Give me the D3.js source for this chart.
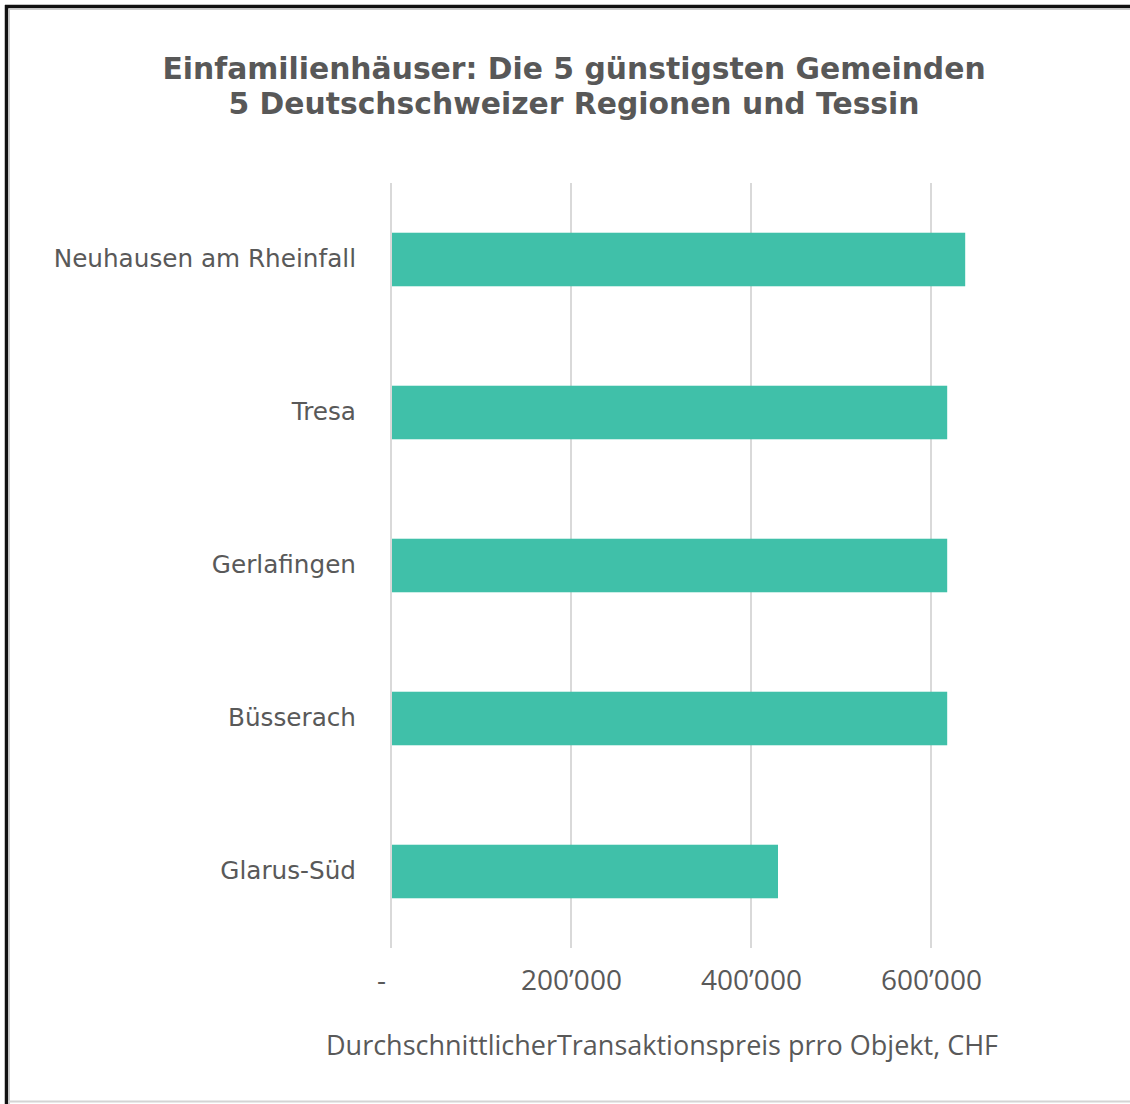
<!DOCTYPE html>
<html>
<head>
<meta charset="utf-8">
<script src="https://cdn.jsdelivr.net/npm/d3@7"></script>
<style>
  body { margin: 0; background: #fff; }
  svg { display: block; }
</style>
</head>
<body>
<div id="chart"></div>
<script>
// data
var gemeinden = ["Neuhausen am Rheinfall", "Tresa", "Gerlafingen", "Büsserach", "Glarus-Süd"];
var preise = [638000, 618000, 618000, 618000, 430000];
var tickValues = [0, 200000, 400000, 600000];
var titleLines = ["Einfamilienhäuser: Die 5 günstigsten Gemeinden", "5 Deutschschweizer Regionen und Tessin"];
var xTitle = "DurchschnittlicherTransaktionspreis prro Objekt, CHF";

var svgWidth = 1130;
var svgHeight = 1104;
var margin = { top: 183, right: 200, bottom: 156, left: 391 };
var chartWidth = svgWidth - margin.left - margin.right;
var chartHeight = svgHeight - margin.top - margin.bottom;

var svg = d3.select("#chart").append("svg")
    .attr("width", svgWidth)
    .attr("height", svgHeight);

// frame
svg.append("rect").attr("x", 0).attr("y", 0).attr("width", svgWidth).attr("height", svgHeight).attr("fill", "#fff");
svg.append("line").attr("x1", 5).attr("x2", svgWidth).attr("y1", 6.5).attr("y2", 6.5)
    .attr("stroke", "#111").attr("stroke-width", 3.5);
svg.append("line").attr("x1", 6.5).attr("x2", 6.5).attr("y1", 5).attr("y2", svgHeight)
    .attr("stroke", "#111").attr("stroke-width", 3.5);
svg.append("line").attr("x1", 9).attr("x2", svgWidth).attr("y1", 9.5).attr("y2", 9.5)
    .attr("stroke", "#ccc").attr("stroke-width", 1);
svg.append("line").attr("x1", 9.5).attr("x2", 9.5).attr("y1", 9).attr("y2", svgHeight)
    .attr("stroke", "#ccc").attr("stroke-width", 1);
svg.append("line").attr("x1", 8).attr("x2", svgWidth).attr("y1", 1101.5).attr("y2", 1101.5)
    .attr("stroke", "#d4d4d4").attr("stroke-width", 2);

// title
var title = svg.append("text")
    .attr("text-anchor", "middle")
    .attr("font-family", "DejaVu Sans, Verdana, sans-serif")
    .attr("font-weight", "bold")
    .attr("font-size", 29.8)
    .attr("fill", "#585858");
titleLines.forEach(function(t, i) {
    title.append("tspan").attr("x", 574).attr("y", 79 + i * 35).text(t);
});

var chartGroup = svg.append("g")
    .attr("transform", `translate(${margin.left}, ${margin.top})`);

var xScale = d3.scaleLinear()
    .domain([0, 800000])
    .range([0, 720]);

var yScale = d3.scaleBand()
    .domain(gemeinden)
    .range([0, chartHeight])
    .paddingInner(0.65)
    .paddingOuter(0.325);

// gridlines
chartGroup.append("g")
    .selectAll("line")
    .data(tickValues)
    .enter()
    .append("line")
    .attr("x1", d => xScale(d))
    .attr("x2", d => xScale(d))
    .attr("y1", 0)
    .attr("y2", chartHeight)
    .attr("stroke", "#d9d9d9")
    .attr("stroke-width", 2);

// bars
chartGroup.append("g")
    .selectAll("rect")
    .data(preise)
    .enter()
    .append("rect")
    .attr("x", xScale(0) + 1)
    .attr("y", (d, i) => yScale(gemeinden[i]))
    .attr("width", d => xScale(d) - xScale(0) - 1)
    .attr("height", yScale.bandwidth())
    .attr("fill", "#40c0a9");

// x axis
var fmt = function(d) {
    if (d === 0) return "-";
    return d3.format(",")(d).replace(/,/g, "\u2019");
};
var bottomAxis = d3.axisBottom(xScale)
    .tickValues(tickValues)
    .tickFormat(fmt)
    .tickSize(0)
    .tickPadding(22);
var xAxis = chartGroup.append("g")
    .attr("transform", `translate(0, ${chartHeight})`)
    .call(bottomAxis);
xAxis.select(".domain").remove();
xAxis.selectAll("text")
    .attr("font-family", "Open Sans, sans-serif")
    .attr("font-size", 28)
    .attr("fill", "#595959");
xAxis.selectAll(".tick text").filter(d => d === 0).attr("dx", -10);

// y axis
var leftAxis = d3.axisLeft(yScale)
    .tickSize(0)
    .tickPadding(35);
var yAxis = chartGroup.append("g").call(leftAxis);
yAxis.select(".domain").remove();
yAxis.selectAll("text")
    .attr("font-family", "DejaVu Sans, Verdana, sans-serif")
    .attr("font-size", 24.7)
    .attr("fill", "#595959");

// x axis title
svg.append("text")
    .attr("x", 662)
    .attr("y", 1055)
    .attr("text-anchor", "middle")
    .attr("font-family", "Open Sans, sans-serif")
    .attr("font-size", 27)
    .attr("fill", "#595959")
    .text(xTitle);
</script>
</body>
</html>
